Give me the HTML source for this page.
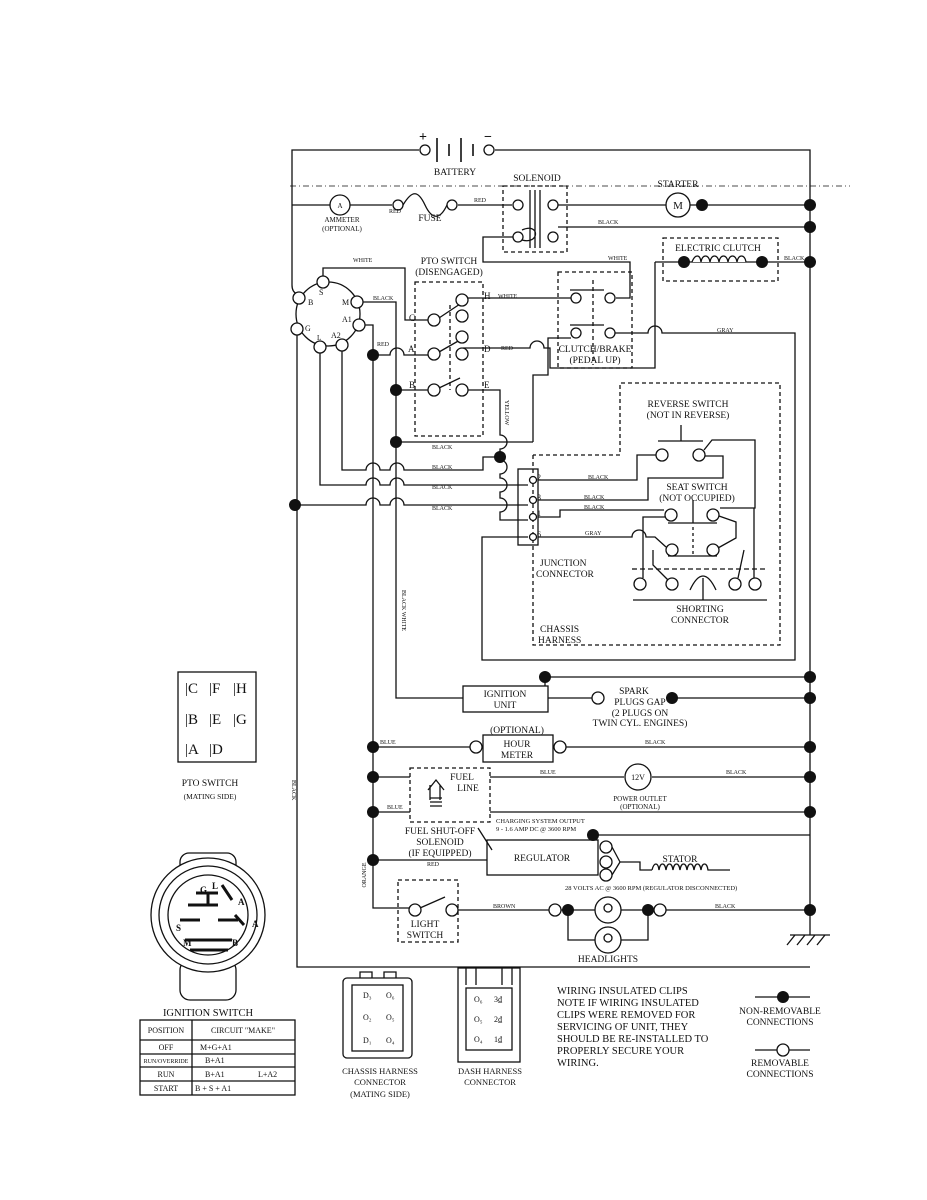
<!DOCTYPE html>
<html><head><meta charset="utf-8"><style>
html,body{margin:0;padding:0;background:#fff}
svg{display:block}
text{font-family:"Liberation Serif",serif;fill:#111}
.s{font-size:6px}
.m{font-size:9.5px}
.l{font-size:10.5px}
</style></head><body>
<svg width="927" height="1200" viewBox="0 0 927 1200" xmlns="http://www.w3.org/2000/svg">
<g fill="none" stroke="#111" stroke-width="1.3">
<!-- battery -->
<path d="M292 205V150H419M495 150H810V935"/>
<circle cx="425" cy="150" r="5" fill="#fff"/><circle cx="489" cy="150" r="5" fill="#fff"/>
<path d="M437 138V162M449 144V156M461 138V162M473 144V156" stroke-width="1.6"/>
<path d="M290 186H850" stroke-dasharray="6 3 1 3" stroke-width="0.8"/>
<!-- ammeter/fuse -->
<path d="M292 205H330M350 205H392M458 205H512"/>
<circle cx="340" cy="205" r="10" fill="#fff"/>
<circle cx="398" cy="205" r="5" fill="#fff"/><circle cx="452" cy="205" r="5" fill="#fff"/>
<path d="M403 205C412 190 418 190 425 205S440 220 447 205"/>
<!-- solenoid -->
<rect x="503" y="186" width="64" height="66" stroke-dasharray="4 3"/>
<circle cx="518" cy="205" r="5" fill="#fff"/><circle cx="553" cy="205" r="5" fill="#fff"/>
<circle cx="518" cy="237" r="5" fill="#fff"/><circle cx="553" cy="237" r="5" fill="#fff"/>
<path d="M530 190V248M535 190V248M540 190V248M522 230C540 222 540 245 522 240"/>
<path d="M558 205H666M690 205H810M558 227H810"/>
<circle cx="678" cy="205" r="12" fill="#fff"/>
<path d="M513 237H483V262H630V298H616"/>
<!-- electric clutch -->
<rect x="663" y="238" width="115" height="43" stroke-dasharray="4 3"/>
<path d="M655 262H762M762 262H810"/>
<path d="M692 262c3-8 8-8 9 0c1-8 8-8 9 0c1-8 8-8 9 0c1-8 8-8 9 0c1-8 8-8 9 0c1-8 8-8 9 0" fill="#fff" stroke="#111"/>
<!-- clutch brake -->
<rect x="558" y="272" width="74" height="96" stroke-dasharray="4 3"/>
<path d="M593 280V365" stroke-dasharray="4 3"/>
<circle cx="576" cy="298" r="5" fill="#fff"/><circle cx="610" cy="298" r="5" fill="#fff"/>
<circle cx="576" cy="333" r="5" fill="#fff"/><circle cx="610" cy="333" r="5" fill="#fff"/>
<path d="M570 290H604M570 325H604"/>
<path d="M468 298H571"/>
<path d="M615 333H648a7 7 0 0 1 14 0H795V660H482V537H528"/>
<path d="M463 348H530a7 7 0 0 1 14 0H550V368H655V262"/>
<path d="M533 442V375H548V338H571"/>
<!-- ignition switch -->
<circle cx="328" cy="314" r="32"/>
<path d="M323 276V268H405V320H428"/>
<path d="M363 302H396V442"/>
<path d="M365 325H373V355M373 355H390a7 7 0 0 1 14 0H428"/>
<path d="M373 355V860"/>
<path d="M396 442V698H463"/>
<path d="M342 351V470H366a7 7 0 0 1 14 0H390a7 7 0 0 1 14 0H483V457H500"/>
<path d="M320 353V485H366a7 7 0 0 1 14 0H390a7 7 0 0 1 14 0H528"/>
<path d="M292 205V285Q292 292 297 294"/>
<path d="M297 335V967H810"/>
<path d="M297 505H366a7 7 0 0 1 14 0H390a7 7 0 0 1 14 0H528"/>
<path d="M396 390H428"/>
<path d="M396 442H533"/>
<path d="M467 390H500V435a7 7 0 0 1 0 14V460a7 7 0 0 1 0 14V478a7 7 0 0 1 0 14V498a7 7 0 0 1 0 14V520H528"/>
<!-- PTO switch -->
<rect x="415" y="282" width="68" height="154" stroke-dasharray="4 3"/>
<path d="M450 305V390" stroke-dasharray="4 3"/>
<path d="M439 318L460 304M439 352L460 340M439 388L460 378"/>
<!-- junction -->
<rect x="518" y="469" width="20" height="76"/>
<path d="M533 455V645H780V383H620V455H533" stroke-dasharray="4 3"/>
<path d="M538 480H637V455H656"/>
<path d="M538 500H648V478H723V456H705"/>
<path d="M538 517H560V510H664"/>
<path d="M538 537H632a7 7 0 0 1 14 0H655L666 547"/>
<circle cx="662" cy="455" r="6" fill="#fff"/><circle cx="699" cy="455" r="6" fill="#fff"/>
<path d="M658 441H703M681 425V441M704 450L712 440H755V508H720"/>
<circle cx="671" cy="515" r="6" fill="#fff"/><circle cx="713" cy="515" r="6" fill="#fff"/>
<circle cx="672" cy="550" r="6" fill="#fff"/><circle cx="713" cy="550" r="6" fill="#fff"/>
<path d="M668 523H717M668 556H717M693 500V523"/>
<path d="M693 527V556" stroke-dasharray="3 3"/>
<path d="M643 578V517H665M719 516L736 522V538L718 548M653 550V565L668 580M744 550L738 578M754 578V508"/>
<path d="M632 569H768" stroke-dasharray="5 3"/>
<path d="M633 600H767M703 600V578M690 590Q703 562 716 590"/>
<circle cx="640" cy="584" r="6" fill="#fff"/><circle cx="672" cy="584" r="6" fill="#fff"/>
<circle cx="735" cy="584" r="6" fill="#fff"/><circle cx="755" cy="584" r="6" fill="#fff"/>
<!-- ignition unit -->
<rect x="463" y="686" width="85" height="26"/>
<path d="M548 698H592M545 677V686M545 677H810M672 698H810"/>
<!-- hour meter -->
<rect x="483" y="735" width="70" height="27"/>
<path d="M373 747H470M566 747H810"/>
<path d="M373 777H410M490 777H624M652 777H810"/>
<circle cx="638" cy="777" r="13" fill="#fff"/>
<path d="M373 812H410M490 812H810M593 835H810"/>
<rect x="410" y="768" width="80" height="54" stroke-dasharray="4 3"/>
<path d="M430 800V785M440 800V785M428 790L436 780L444 790M430 798h12M430 802h12M430 806h12"/>
<!-- regulator -->
<rect x="487" y="840" width="111" height="35"/>
<path d="M373 860H487M478 828L492 850"/>
<path d="M612 847L620 862M612 875L620 862M620 862H640V870H652"/>
<path d="M652 870c2-8 6-8 7 0c1-8 6-8 7 0c1-8 6-8 7 0c1-8 6-8 7 0c1-8 6-8 7 0c1-8 6-8 7 0c1-8 6-8 7 0c1-8 6-8 7 0H730"/>
<!-- light switch -->
<path d="M373 860V908H409"/>
<rect x="398" y="880" width="60" height="62" stroke-dasharray="4 3"/>
<path d="M420 908L445 897M458 910H549M561 910H810"/>
<path d="M568 910V940H648V910"/>
<circle cx="608" cy="910" r="13" fill="#fff"/><circle cx="608" cy="940" r="13" fill="#fff"/>
<circle cx="608" cy="908" r="4"/><circle cx="608" cy="938" r="4"/>
<path d="M790 935H830M795 935l-8 10M805 935l-8 10M815 935l-8 10M825 935l-8 10"/>
<!-- legend -->
<path d="M755 997H810M755 1050H810"/>
<!-- PTO mating -->
<rect x="178" y="672" width="78" height="90"/>
<!-- ign switch drawing -->
<rect x="180" y="853" width="56" height="22" rx="9"/>
<rect x="180" y="960" width="56" height="40" rx="10"/>
<circle cx="208" cy="915" r="57" fill="#fff"/>
<circle cx="208" cy="915" r="49"/>
<circle cx="208" cy="915" r="40"/>
<path d="M180 920H200M218 920H238M185 940H232M188 905H218M208 893V905M196 893H218M222 885L232 900M235 915L244 925M190 950H228" stroke-width="3"/>
<!-- table -->
<rect x="140" y="1020" width="155" height="75"/>
<path d="M140 1040H295M140 1054H295M140 1067H295M140 1081H295M192 1020V1095"/>
<!-- connectors -->
<rect x="343" y="978" width="69" height="80" rx="4"/>
<rect x="352" y="985" width="51" height="66"/>
<path d="M360 978V972H372V978M384 978V972H396V978"/>
<rect x="458" y="968" width="62" height="94"/>
<rect x="466" y="988" width="46" height="62"/>
<path d="M466 968V985M476 968V985M502 968V985M512 968V985"/>
</g>
<!-- open terminal circles -->
<g fill="#fff" stroke="#111" stroke-width="1.3">
<circle cx="323" cy="282" r="6"/><circle cx="299" cy="298" r="6"/><circle cx="357" cy="302" r="6"/>
<circle cx="359" cy="325" r="6"/><circle cx="297" cy="329" r="6"/><circle cx="320" cy="347" r="6"/><circle cx="342" cy="345" r="6"/>
<circle cx="434" cy="320" r="6"/><circle cx="434" cy="354" r="6"/><circle cx="434" cy="390" r="6"/>
<circle cx="462" cy="300" r="6"/><circle cx="462" cy="316" r="6"/><circle cx="462" cy="337" r="6"/><circle cx="462" cy="354" r="6"/><circle cx="462" cy="390" r="6"/>
<circle cx="533" cy="480" r="3.5"/><circle cx="533" cy="500" r="3.5"/><circle cx="533" cy="517" r="3.5"/><circle cx="533" cy="537" r="3.5"/>
<circle cx="598" cy="698" r="6"/><circle cx="476" cy="747" r="6"/><circle cx="560" cy="747" r="6"/>
<circle cx="606" cy="847" r="6"/><circle cx="606" cy="862" r="6"/><circle cx="606" cy="875" r="6"/>
<circle cx="415" cy="910" r="6"/><circle cx="452" cy="910" r="6"/><circle cx="555" cy="910" r="6"/><circle cx="660" cy="910" r="6"/>
<circle cx="783" cy="1050" r="6"/>
</g>
<!-- filled dots -->
<g fill="#111">
<circle cx="702" cy="205" r="6"/><circle cx="810" cy="205" r="6"/><circle cx="810" cy="227" r="6"/>
<circle cx="684" cy="262" r="6"/><circle cx="762" cy="262" r="6"/><circle cx="810" cy="262" r="6"/>
<circle cx="373" cy="355" r="6"/><circle cx="396" cy="390" r="6"/><circle cx="396" cy="442" r="6"/>
<circle cx="500" cy="457" r="6"/><circle cx="295" cy="505" r="6"/>
<circle cx="545" cy="677" r="6"/><circle cx="810" cy="677" r="6"/><circle cx="672" cy="698" r="6"/><circle cx="810" cy="698" r="6"/>
<circle cx="373" cy="747" r="6"/><circle cx="810" cy="747" r="6"/><circle cx="373" cy="777" r="6"/><circle cx="810" cy="777" r="6"/>
<circle cx="373" cy="812" r="6"/><circle cx="810" cy="812" r="6"/><circle cx="593" cy="835" r="6"/>
<circle cx="373" cy="860" r="6"/><circle cx="568" cy="910" r="6"/><circle cx="648" cy="910" r="6"/><circle cx="810" cy="910" r="6"/>
<circle cx="783" cy="997" r="6"/>
</g>
<!-- labels -->
<text x="419" y="141" font-size="14" font-weight="bold">+</text>
<text x="484" y="141" font-size="14" font-weight="bold">−</text>
<text x="455" y="175" class="m" text-anchor="middle">BATTERY</text>
<text x="537" y="181" class="m" text-anchor="middle">SOLENOID</text>
<text x="678" y="187" class="m" text-anchor="middle">STARTER</text>
<text x="678" y="209" font-size="11" text-anchor="middle">M</text>
<text x="340" y="208" font-size="7" text-anchor="middle">A</text>
<text x="342" y="222" font-size="7" text-anchor="middle">AMMETER</text>
<text x="342" y="231" font-size="7" text-anchor="middle">(OPTIONAL)</text>
<text x="430" y="221" class="m" text-anchor="middle">FUSE</text>
<text x="389" y="213" class="s">RED</text><text x="474" y="202" class="s">RED</text>
<text x="598" y="224" class="s">BLACK</text>
<text x="718" y="251" class="m" text-anchor="middle">ELECTRIC CLUTCH</text>
<text x="784" y="260" class="s">BLACK</text>
<text x="608" y="260" class="s">WHITE</text>
<text x="353" y="262" class="s">WHITE</text>
<text x="449" y="264" class="m" text-anchor="middle">PTO SWITCH</text>
<text x="449" y="275" class="m" text-anchor="middle">(DISENGAGED)</text>
<text x="308" y="305" font-size="8">B</text><text x="319" y="295" font-size="8">S</text><text x="342" y="305" font-size="8">M</text>
<text x="342" y="322" font-size="8">A1</text><text x="305" y="331" font-size="8">G</text><text x="317" y="340" font-size="7">L</text><text x="331" y="338" font-size="8">A2</text>
<text x="373" y="300" class="s">BLACK</text><text x="377" y="346" class="s">RED</text>
<text x="409" y="321" font-size="9">C</text><text x="408" y="352" font-size="9">A</text><text x="409" y="388" font-size="9">B</text>
<text x="484" y="299" font-size="9">H</text><text x="484" y="352" font-size="9">D</text><text x="484" y="388" font-size="9">E</text>
<text x="498" y="298" class="s">WHITE</text><text x="501" y="350" class="s">RED</text>
<text x="717" y="332" class="s">GRAY</text>
<text x="595" y="352" class="m" text-anchor="middle">CLUTCH/BRAKE</text>
<text x="595" y="363" class="m" text-anchor="middle">(PEDAL UP)</text>
<text x="505" y="400" class="s" transform="rotate(90 505 400)">YELLOW</text>
<text x="432" y="449" class="s">BLACK</text><text x="432" y="469" class="s">BLACK</text>
<text x="432" y="489" class="s">BLACK</text><text x="432" y="510" class="s">BLACK</text>
<text x="588" y="479" class="s">BLACK</text><text x="584" y="499" class="s">BLACK</text><text x="584" y="509" class="s">BLACK</text><text x="585" y="535" class="s">GRAY</text>
<text x="537" y="480" font-size="8">2</text><text x="537" y="500" font-size="8">3</text><text x="537" y="516" font-size="8">1</text><text x="537" y="537" font-size="8">6</text>
<text x="688" y="407" class="m" text-anchor="middle">REVERSE SWITCH</text>
<text x="688" y="418" class="m" text-anchor="middle">(NOT IN REVERSE)</text>
<text x="697" y="490" class="m" text-anchor="middle">SEAT SWITCH</text>
<text x="697" y="501" class="m" text-anchor="middle">(NOT OCCUPIED)</text>
<text x="540" y="566" class="m">JUNCTION</text><text x="536" y="577" class="m">CONNECTOR</text>
<text x="540" y="632" class="m">CHASSIS</text><text x="538" y="643" class="m">HARNESS</text>
<text x="700" y="612" class="m" text-anchor="middle">SHORTING</text><text x="700" y="623" class="m" text-anchor="middle">CONNECTOR</text>
<text x="402" y="590" class="s" transform="rotate(90 402 590)">BLACK WHITE</text>
<text x="505" y="697" class="m" text-anchor="middle">IGNITION</text><text x="505" y="708" class="m" text-anchor="middle">UNIT</text>
<text x="634" y="694" class="m" text-anchor="middle">SPARK</text>
<text x="640" y="705" class="m" text-anchor="middle">PLUGS GAP</text>
<text x="640" y="716" class="m" text-anchor="middle">(2 PLUGS ON</text>
<text x="640" y="726" class="m" text-anchor="middle">TWIN CYL. ENGINES)</text>
<text x="517" y="733" class="m" text-anchor="middle">(OPTIONAL)</text>
<text x="517" y="747" class="m" text-anchor="middle">HOUR</text><text x="517" y="758" class="m" text-anchor="middle">METER</text>
<text x="380" y="744" class="s">BLUE</text><text x="645" y="744" class="s">BLACK</text>
<text x="462" y="780" class="m" text-anchor="middle">FUEL</text><text x="468" y="791" class="m" text-anchor="middle">LINE</text>
<text x="540" y="774" class="s">BLUE</text><text x="726" y="774" class="s">BLACK</text>
<text x="638" y="780" font-size="8" text-anchor="middle">12V</text>
<text x="640" y="801" font-size="7" text-anchor="middle">POWER OUTLET</text>
<text x="640" y="809" font-size="7" text-anchor="middle">(OPTIONAL)</text>
<text x="387" y="809" class="s">BLUE</text>
<text x="496" y="823" font-size="6.5">CHARGING SYSTEM OUTPUT</text>
<text x="496" y="831" font-size="6.5">9 - 1.6 AMP DC @ 3600 RPM</text>
<text x="440" y="834" class="m" text-anchor="middle">FUEL SHUT-OFF</text>
<text x="440" y="845" class="m" text-anchor="middle">SOLENOID</text>
<text x="440" y="856" class="m" text-anchor="middle">(IF EQUIPPED)</text>
<text x="427" y="866" class="s">RED</text>
<text x="542" y="861" class="m" text-anchor="middle">REGULATOR</text>
<text x="680" y="862" class="m" text-anchor="middle">STATOR</text>
<text x="565" y="890" font-size="6.5">28 VOLTS AC @ 3600 RPM (REGULATOR DISCONNECTED)</text>
<text x="366" y="875" class="s" transform="rotate(-90 366 875)" text-anchor="middle">ORANGE</text>
<text x="493" y="908" class="s">BROWN</text><text x="715" y="908" class="s">BLACK</text>
<text x="425" y="927" class="m" text-anchor="middle">LIGHT</text><text x="425" y="938" class="m" text-anchor="middle">SWITCH</text>
<text x="608" y="962" class="m" text-anchor="middle">HEADLIGHTS</text>
<text x="292" y="780" class="s" transform="rotate(90 292 780)">BLACK</text>
<g font-size="15">
<text x="185" y="693">|C</text><text x="209" y="693">|F</text><text x="233" y="693">|H</text>
<text x="185" y="724">|B</text><text x="209" y="724">|E</text><text x="233" y="724">|G</text>
<text x="185" y="754">|A</text><text x="209" y="754">|D</text>
</g>
<text x="210" y="786" class="m" text-anchor="middle">PTO SWITCH</text>
<text x="210" y="799" font-size="7.5" text-anchor="middle">(MATING SIDE)</text>
<g font-size="9" font-weight="bold">
<text x="200" y="893">G</text><text x="212" y="889">L</text><text x="238" y="905">A</text><text x="252" y="927">A</text>
<text x="176" y="931">S</text><text x="183" y="946">M</text><text x="232" y="946">B</text>
</g>
<text x="208" y="1016" class="l" text-anchor="middle">IGNITION SWITCH</text>
<g font-size="8">
<text x="166" y="1033" text-anchor="middle">POSITION</text><text x="243" y="1033" text-anchor="middle">CIRCUIT   "MAKE"</text>
<text x="166" y="1050" text-anchor="middle">OFF</text><text x="200" y="1050">M+G+A1</text>
<text x="166" y="1063" text-anchor="middle" font-size="6">RUN/OVERRIDE</text><text x="205" y="1063">B+A1</text>
<text x="166" y="1077" text-anchor="middle">RUN</text><text x="205" y="1077">B+A1</text><text x="258" y="1077">L+A2</text>
<text x="166" y="1091" text-anchor="middle">START</text><text x="195" y="1091">B + S + A1</text>
</g>
<g font-size="8">
<text x="363" y="998">D₃</text><text x="386" y="998">O₆</text>
<text x="363" y="1020">O₂</text><text x="386" y="1020">O₅</text>
<text x="363" y="1043">D₁</text><text x="386" y="1043">O₄</text>
<text x="474" y="1002">O₆</text><text x="494" y="1002">3₫</text>
<text x="474" y="1022">O₅</text><text x="494" y="1022">2₫</text>
<text x="474" y="1042">O₄</text><text x="494" y="1042">1₫</text>
</g>
<text x="380" y="1074" font-size="8.5" text-anchor="middle">CHASSIS HARNESS</text>
<text x="380" y="1085" font-size="8.5" text-anchor="middle">CONNECTOR</text>
<text x="380" y="1097" font-size="8.5" text-anchor="middle">(MATING SIDE)</text>
<text x="490" y="1074" font-size="8.5" text-anchor="middle">DASH HARNESS</text>
<text x="490" y="1085" font-size="8.5" text-anchor="middle">CONNECTOR</text>
<g font-size="10.5">
<text x="557" y="994">WIRING INSULATED CLIPS</text>
<text x="557" y="1006">NOTE  IF WIRING INSULATED</text>
<text x="557" y="1018">CLIPS WERE REMOVED FOR</text>
<text x="557" y="1030">SERVICING OF UNIT, THEY</text>
<text x="557" y="1042">SHOULD BE RE-INSTALLED TO</text>
<text x="557" y="1054">PROPERLY SECURE YOUR</text>
<text x="557" y="1066">WIRING.</text>
</g>
<text x="780" y="1014" class="m" text-anchor="middle">NON-REMOVABLE</text>
<text x="780" y="1025" class="m" text-anchor="middle">CONNECTIONS</text>
<text x="780" y="1066" class="m" text-anchor="middle">REMOVABLE</text>
<text x="780" y="1077" class="m" text-anchor="middle">CONNECTIONS</text>
</svg>
</body></html>
